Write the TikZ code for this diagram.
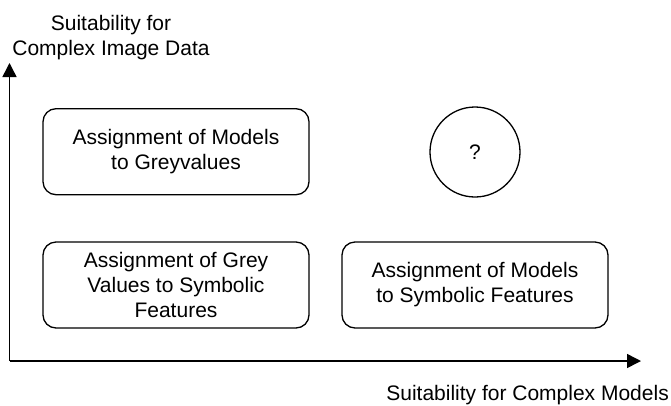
\documentclass[tikz,border=0pt]{standalone}
\usepackage{fontspec}
\setmainfont{Liberation Sans}
\usetikzlibrary{arrows.meta}
\tikzset{
  lbl/.style={inner sep=0pt, align=center, font=\fontsize{21}{25}\selectfont},
  rbox/.style={draw, line width=1.3pt, rounded corners=13pt, minimum width=266pt, minimum height=86pt, inner sep=0pt, align=center, font=\fontsize{21}{25}\selectfont},
  qcirc/.style={draw, circle, line width=1.3pt, minimum size=90pt, inner sep=0pt, font=\fontsize{21}{25}\selectfont},
  axis/.style={line width=1.5pt, -{Triangle[length=14pt,width=14pt]}}
}
\begin{document}
\begin{tikzpicture}[x=1pt,y=-1pt]
\useasboundingbox (0,0) rectangle (671,405);
\coordinate (o) at (9.5,361);
\coordinate (xe) at (641,361);
\coordinate (ye) at (9.5,63);
\draw[axis] (o) -- (xe);
\draw[axis] (o) -- (ye);
\node[lbl] (ylab) at (111,38) {Suitability for\\Complex Image Data};
\node[lbl, anchor=base east] (xlab) at (669,400) {Suitability for Complex Models};
\node[rbox] (b1) at (176,151.7) {Assignment of Models\\to Greyvalues};
\node[rbox] (b2) at (176,285) {Assignment of Grey\\Values to Symbolic\\Features};
\node[rbox] (b3) at (475,285) {Assignment of Models\\to Symbolic Features};
\node[qcirc] (q) at (475,152) {?};
\end{tikzpicture}
\end{document}
